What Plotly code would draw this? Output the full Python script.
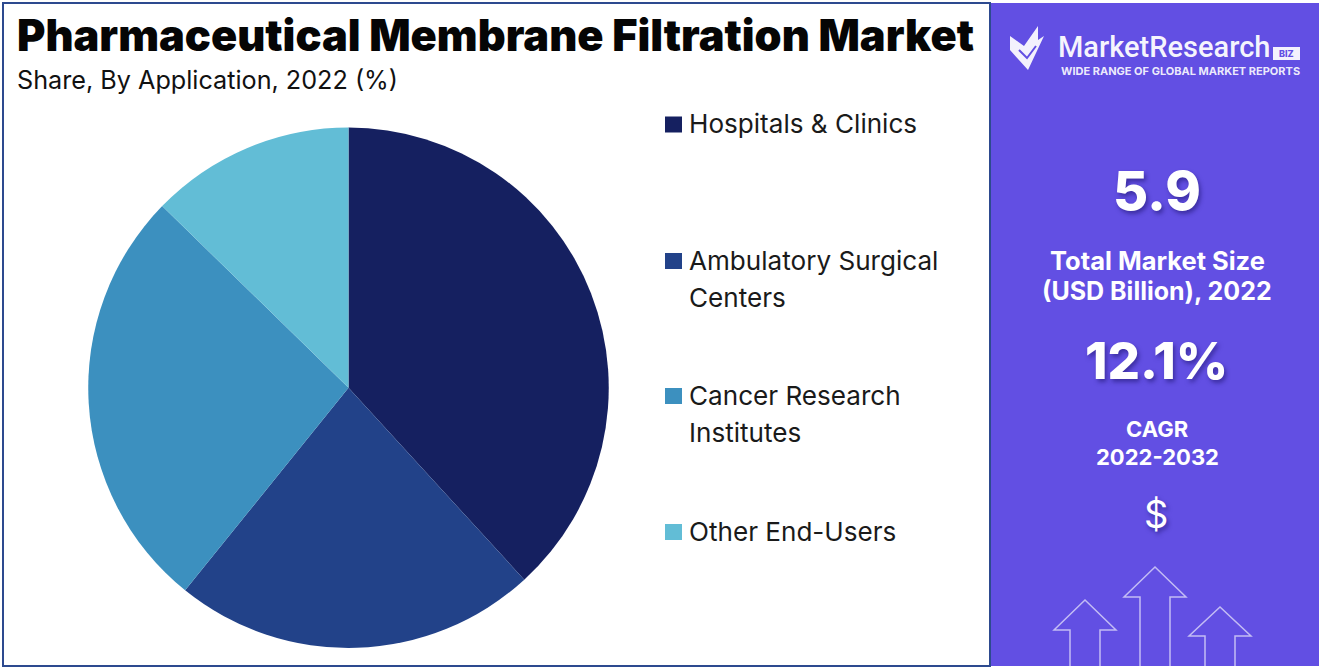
import plotly.graph_objects as go

W, H = 1320, 671

labels = ["Hospitals & Clinics", "Ambulatory Surgical Centers", "Cancer Research Institutes", "Other End-Users"]
legend_text = ["Hospitals & Clinics", "Ambulatory Surgical<br>Centers", "Cancer Research<br>Institutes", "Other End-Users"]
values = [38.2, 22.6, 26.5, 12.7]
colors = ["#152060", "#224289", "#3C90BF", "#62BDD6"]
legend_y = [124.5, 261, 396, 532]

FONT = "Inter"
PURPLE = "#624FE3"
BORDER = "#2D4A8F"

fig = go.Figure()
fig.add_trace(go.Pie(
    labels=labels, values=values, sort=False, direction="clockwise", rotation=0,
    marker=dict(colors=colors, line=dict(width=0)),
    textinfo="none", hoverinfo="label+percent", showlegend=False,
    domain=dict(x=[88 / W, 609 / W], y=[1 - 648 / H, 1 - 127.5 / H]),
))
# invisible trace that brings up the pixel-aligned overlay axes
fig.add_trace(go.Scatter(x=[0], y=[0], mode="markers", marker=dict(opacity=0), showlegend=False, hoverinfo="skip"))

shapes = []
shapes.append(dict(type="rect", x0=990, x1=1319, y0=3, y1=666, fillcolor=PURPLE, line=dict(width=0), layer="below"))
shapes.append(dict(type="rect", x0=3, x1=990, y0=3, y1=666, fillcolor="rgba(0,0,0,0)", line=dict(color=BORDER, width=2), layer="above"))

for c, y in zip(colors, legend_y):
    shapes.append(dict(type="rect", x0=665, x1=682, y0=y - 8, y1=y + 8, fillcolor=c, line=dict(width=0)))

# arrows (tip x, tip y, shoulder y)
ARROW = "rgba(255,255,255,0.62)"
for cx, tip, sh in [(1085, 600, 630), (1155, 567, 597), (1220, 607, 636)]:
    p = f"M {cx-15} 667 L {cx-15} {sh} L {cx-31} {sh} L {cx} {tip} L {cx+31} {sh} L {cx+15} {sh} L {cx+15} 667"
    shapes.append(dict(type="path", path=p, line=dict(color=ARROW, width=1.5)))

# logo mark
shapes.append(dict(type="path",
    path="M 1010 36 L 1024 46 L 1038 26 L 1038 40 L 1044 36 L 1028 70 L 1010 50 Z",
    fillcolor="rgba(255,255,255,0.92)", line=dict(width=0)))
shapes.append(dict(type="path", path="M 1019 50 L 1027 58 L 1036 46",
    line=dict(color=PURPLE, width=2)))
shapes.append(dict(type="rect", x0=1273, x1=1300, y0=47, y1=60, fillcolor="rgba(255,255,255,0.92)", line=dict(width=0)))

def txt(x, y, s, size, color="white", weight=400, anchor="center", shadow="none", family=FONT):
    return dict(x=x, y=y, xref="x", yref="y", text=s, showarrow=False, xanchor=anchor, yanchor="middle",
                align="left" if anchor == "left" else "center",
                font=dict(family=family, size=size, color=color, weight=weight, shadow=shadow))

SH = "2px 3px 4px rgba(30,20,110,0.55)"
ann = [
    txt(15, 35, "Pharmaceutical Membrane Filtration Market", 43.3, "#050505", 900, "left"),
    txt(15, 79.5, "Share, By Application, 2022 (%)", 25.2, "#111111", 400, "left"),
    txt(1056, 46.5, "MarketResearch", 29, "rgba(255,255,255,0.95)", 500, "left", family="Roboto"),
    txt(1286.5, 53.5, "BIZ", 9, PURPLE, 800),
    txt(1180, 71, "WIDE RANGE OF GLOBAL MARKET REPORTS", 11, "rgba(255,255,255,0.9)", 700),
    txt(1157, 190.5, "5.9", 54, "white", 800, shadow=SH),
    txt(1157, 260, "Total Market Size", 25.5, "white", 700),
    txt(1157, 290.5, "(USD Billion), 2022", 25, "white", 700),
    txt(1156, 360, "12.1%", 51, "white", 800, shadow=SH),
    txt(1157, 428.5, "CAGR", 22, "white", 700),
    txt(1157, 456.5, "2022-2032", 22, "white", 700),
    txt(1156, 514, "$", 38, "white", 400, shadow=SH),
]
for s, y in zip(legend_text, legend_y):
    for i, line in enumerate(s.split("<br>")):
        ann.append(txt(687, y - 0.7 + i * 37, line, 26.1, "#1A1A1A", 400, "left"))

fig.update_layout(
    width=W, height=H, margin=dict(l=0, r=0, t=0, b=0),
    paper_bgcolor="white", plot_bgcolor="rgba(0,0,0,0)",
    xaxis=dict(range=[0, W], visible=False, fixedrange=True, domain=[0, 1]),
    yaxis=dict(range=[H, 0], visible=False, fixedrange=True, domain=[0, 1]),
    shapes=shapes, annotations=ann,
)
fig.write_html("out.html", config=dict(displayModeBar=False),
               post_script="document.body.style.margin='0';")
